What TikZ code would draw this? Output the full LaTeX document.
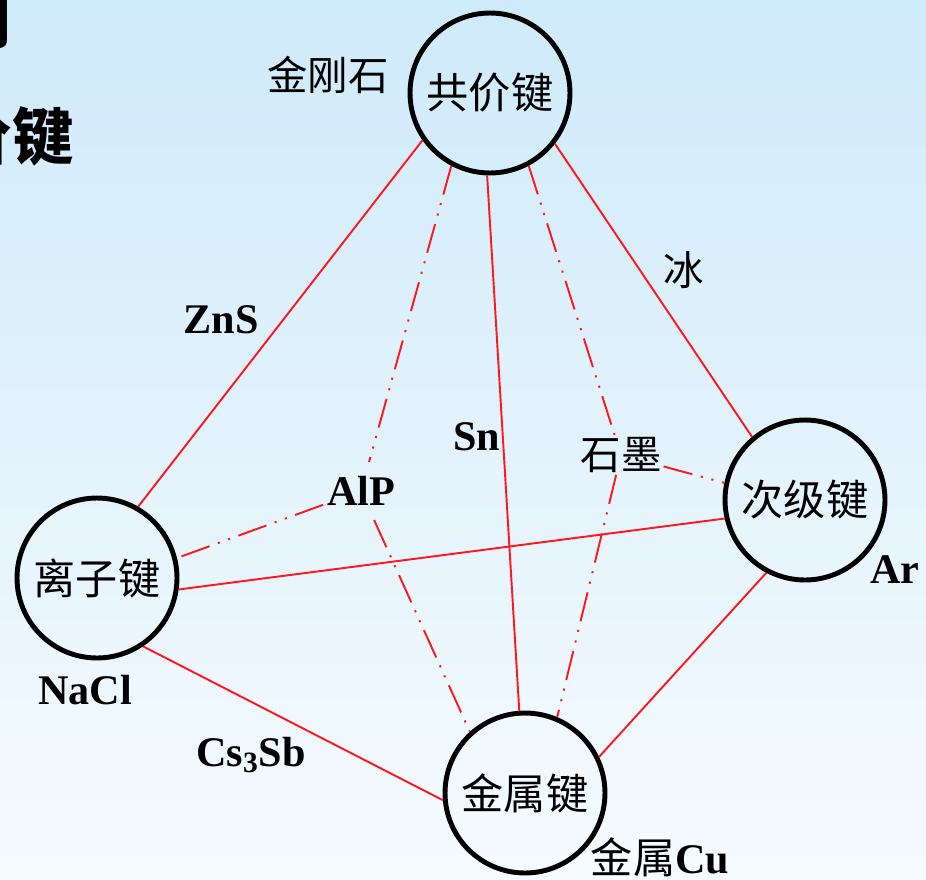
\documentclass[tikz,border=0pt]{standalone}
\usepackage{fontspec}
\setmainfont{Liberation Serif}
\newfontfamily\cjk{Noto Sans CJK SC}
\usepackage{tikz}
\usetikzlibrary{positioning}

\definecolor{bgtop}{RGB}{207,234,250}
\definecolor{bgbottom}{RGB}{246,251,254}
\definecolor{linkred}{RGB}{255,25,30}

\tikzset{
  bond/.style={circle, draw=black, line width=2.8pt, minimum size=3.2cm, inner sep=0pt,
    font=\cjk\fontsize{24}{24}\selectfont},
  link/.style={linkred, line width=1.1pt},
  dotlink/.style={linkred, line width=1.1pt,
    dash pattern=on 17pt off 5pt on 1.2pt off 5pt on 1.2pt off 5pt},
  tag/.style={font=\bfseries\fontsize{24}{24}\selectfont, inner sep=1pt},
  ctag/.style={font=\cjk\fontsize{23}{23}\selectfont, inner sep=1pt},
  heading/.style={font=\cjk\bfseries\fontsize{35}{35}\selectfont, inner sep=0pt, anchor=east}
}

\begin{document}
\begin{tikzpicture}[x=0.02cm, y=-0.02cm]
  \shade[top color=bgtop, bottom color=bgbottom] (0,0) rectangle (926,879);
  \useasboundingbox (0,0) rectangle (926,879);
  \clip (0,0) rectangle (926,879);

  \node[heading] (top1) at (13,20) {作用};
  \node[heading] (top2) at (74,136) {共价键};

  \node[bond] (gj) at (490,93) {共价键};
  \node[bond] (lz) at (97,578) {离子键};
  \node[bond] (cj) at (805,500) {次级键};
  \node[bond] (js) at (525,793) {金属键};

  \node[ctag] (jgs) at (328,75) {金刚石};
  \node[ctag] (bing) at (684,270) {冰};
  \node[ctag] (sm) at (621,455) {石墨};
  \node[tag] (jscu) at (660,857) {{\cjk\mdseries 金属}Cu};

  \node[tag] (zns) at (221,320) {ZnS};
  \node[tag] (nacl) at (85,690) {NaCl};
  \node[tag] (ar) at (895,570) {Ar};
  \node[tag] (sn) at (477,437) {Sn};
  \node[tag, inner xsep=2pt, inner ysep=8pt] (alp) at (361,491) {AlP};
  \node[tag] (cssb) at (251,755) {Cs\textsubscript{3}Sb};

  \draw[link] (gj.215) to (lz.60);
  \draw[link] (gj.322) to (cj.130);
  \draw[link] (gj.268) to (js.94);
  \draw[link] (lz.352) to (cj.193);
  \draw[link] (lz.304) to (js.185);
  \draw[link] (cj.242) to (js.26);

  \draw[dotlink] (gj.242) to (alp);
  \draw[dotlink] (alp) to (lz.14);
  \draw[dotlink] (alp) to (js.132);
  \draw[dotlink] (gj.298) to (sm);
  \draw[dotlink] (sm) to (js.67);
  \draw[dotlink] (sm) to (cj.168);
\end{tikzpicture}
\end{document}
